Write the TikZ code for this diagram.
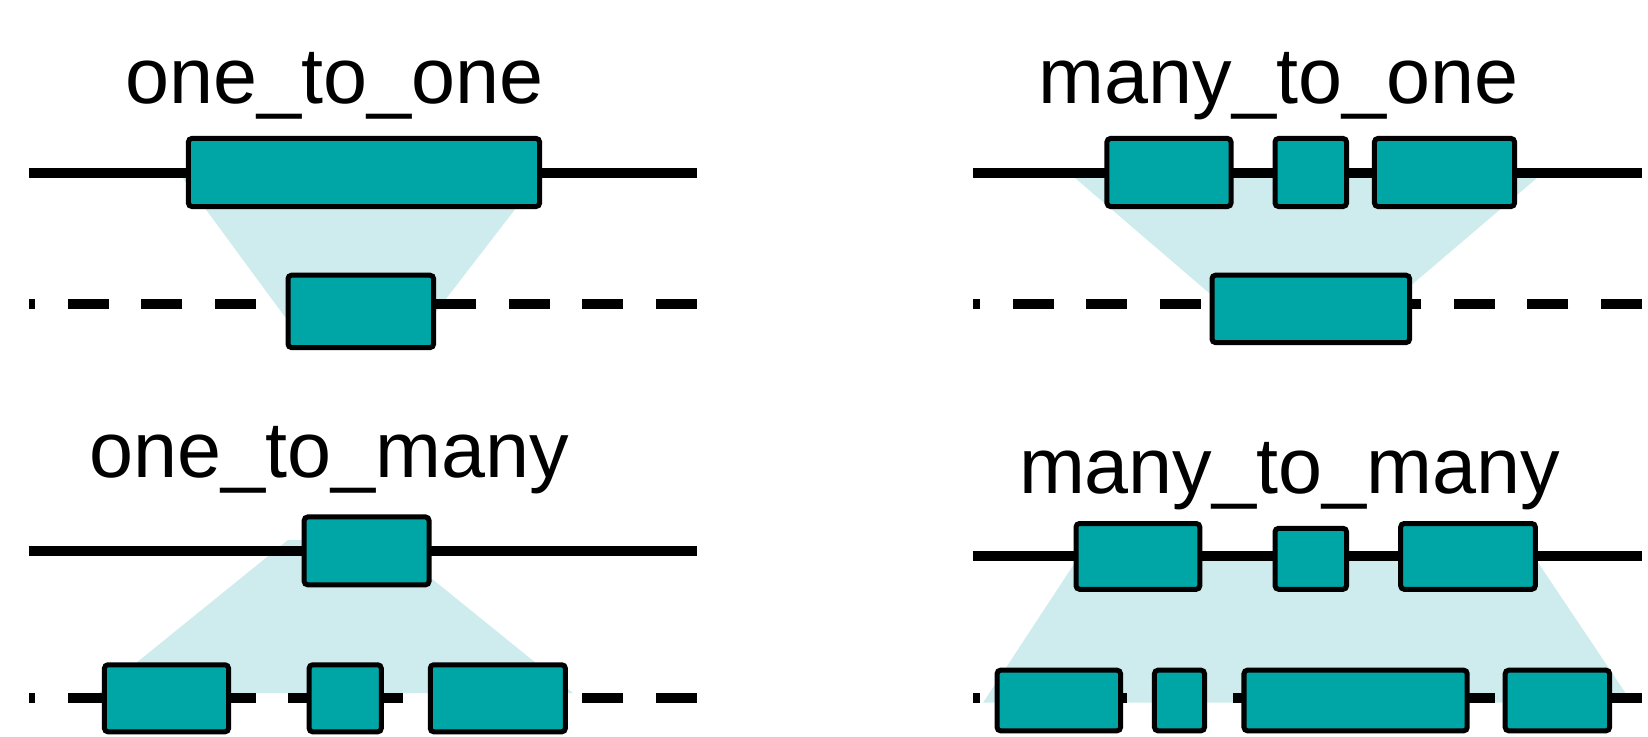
\documentclass[tikz,border=0pt]{standalone}
\usepackage{fontspec}
\setmainfont{Liberation Sans}
\usepackage{xcolor}
\definecolor{exonteal}{RGB}{0,165,166}
\definecolor{mapshade}{RGB}{206,236,237}

\begin{document}
\begin{tikzpicture}[x=0.01cm,y=-0.01cm,
        track/.style={line width=0.1cm},
        gaptrack/.style={line width=0.1cm,dash pattern=on 0.41cm off 0.325cm},
        block/.style={draw,line width=0.05cm,fill=exonteal,rounded corners=0.035cm,inner sep=0pt},
        label/.style={anchor=base,inner sep=0pt,font=\fontsize{22.5}{27}\selectfont}]
    \useasboundingbox (0,0) rectangle (1648,737);

    % shaded mapping areas
    \fill[mapshade] (182,177) -- (540,177) -- (432,317) -- (285,317) -- cycle;
    \fill[mapshade] (1075,178) -- (1537,178) -- (1374,317) -- (1237,317) -- cycle;
    \fill[mapshade] (288,540) -- (384,540) -- (573,693) -- (99,693) -- cycle;
    \fill[mapshade] (1076,561) -- (1537,561) -- (1632,702.7) -- (983,702.7) -- cycle;

    % tracks
    \coordinate (a1l) at (28.5,172.7);  \coordinate (a1r) at (697,172.7);
    \coordinate (b1l) at (28.5,304);    \coordinate (b1r) at (697,304);
    \coordinate (a2l) at (972.5,172.7); \coordinate (a2r) at (1642,172.7);
    \coordinate (b2l) at (972.5,304);   \coordinate (b2r) at (1642,304);
    \coordinate (a3l) at (28.5,551);    \coordinate (a3r) at (697,551);
    \coordinate (b3l) at (28.5,698);    \coordinate (b3r) at (697,698);
    \coordinate (a4l) at (972.5,556);   \coordinate (a4r) at (1642,556);
    \coordinate (b4l) at (972.5,697.7); \coordinate (b4r) at (1642,697.7);
    \foreach \i in {1,...,4}{
        \draw[track] (a\i l) -- (a\i r);
        \draw[gaptrack] (b\i r) -- (b\i l);
    }

    % one_to_one
    \node[label] (t1) at (334.5,104) {one\_to\_one};
    \node[block,minimum width=3.51cm,minimum height=0.68cm] (o1a) at (364,172.5) {};
    \node[block,minimum width=1.455cm,minimum height=0.723cm] (o1b) at (360.8,311.4) {};

    % many_to_one
    \node[label] (t2) at (1278.5,104) {many\_to\_one};
    \node[block,minimum width=1.24cm,minimum height=0.68cm] (m1a) at (1169,172.5) {};
    \node[block,minimum width=0.715cm,minimum height=0.68cm] (m1b) at (1310.8,172.5) {};
    \node[block,minimum width=1.4cm,minimum height=0.68cm] (m1c) at (1444.5,172.5) {};
    \node[block,minimum width=1.975cm,minimum height=0.673cm] (m1d) at (1310.8,308.9) {};

    % one_to_many
    \node[label] (t3) at (329,477.3) {one\_to\_many};
    \node[block,minimum width=1.248cm,minimum height=0.678cm] (o2a) at (366.6,550.9) {};
    \node[block,minimum width=1.24cm,minimum height=0.67cm] (o2b) at (166.5,698.3) {};
    \node[block,minimum width=0.721cm,minimum height=0.67cm] (o2c) at (345.2,698.3) {};
    \node[block,minimum width=1.35cm,minimum height=0.67cm] (o2d) at (497.8,698.3) {};

    % many_to_many
    \node[label] (t4) at (1289.5,493.3) {many\_to\_many};
    \node[block,minimum width=1.237cm,minimum height=0.657cm] (m2a) at (1137.9,556.4) {};
    \node[block,minimum width=0.715cm,minimum height=0.609cm] (m2b) at (1310.8,558.8) {};
    \node[block,minimum width=1.346cm,minimum height=0.657cm] (m2c) at (1468,556.4) {};
    \node[block,minimum width=1.234cm,minimum height=0.606cm] (m2d) at (1058.8,700.5) {};
    \node[block,minimum width=0.5cm,minimum height=0.606cm] (m2e) at (1179.5,700.5) {};
    \node[block,minimum width=2.231cm,minimum height=0.606cm] (m2f) at (1355.6,700.5) {};
    \node[block,minimum width=1.043cm,minimum height=0.606cm] (m2g) at (1557.4,700.5) {};
\end{tikzpicture}
\end{document}
